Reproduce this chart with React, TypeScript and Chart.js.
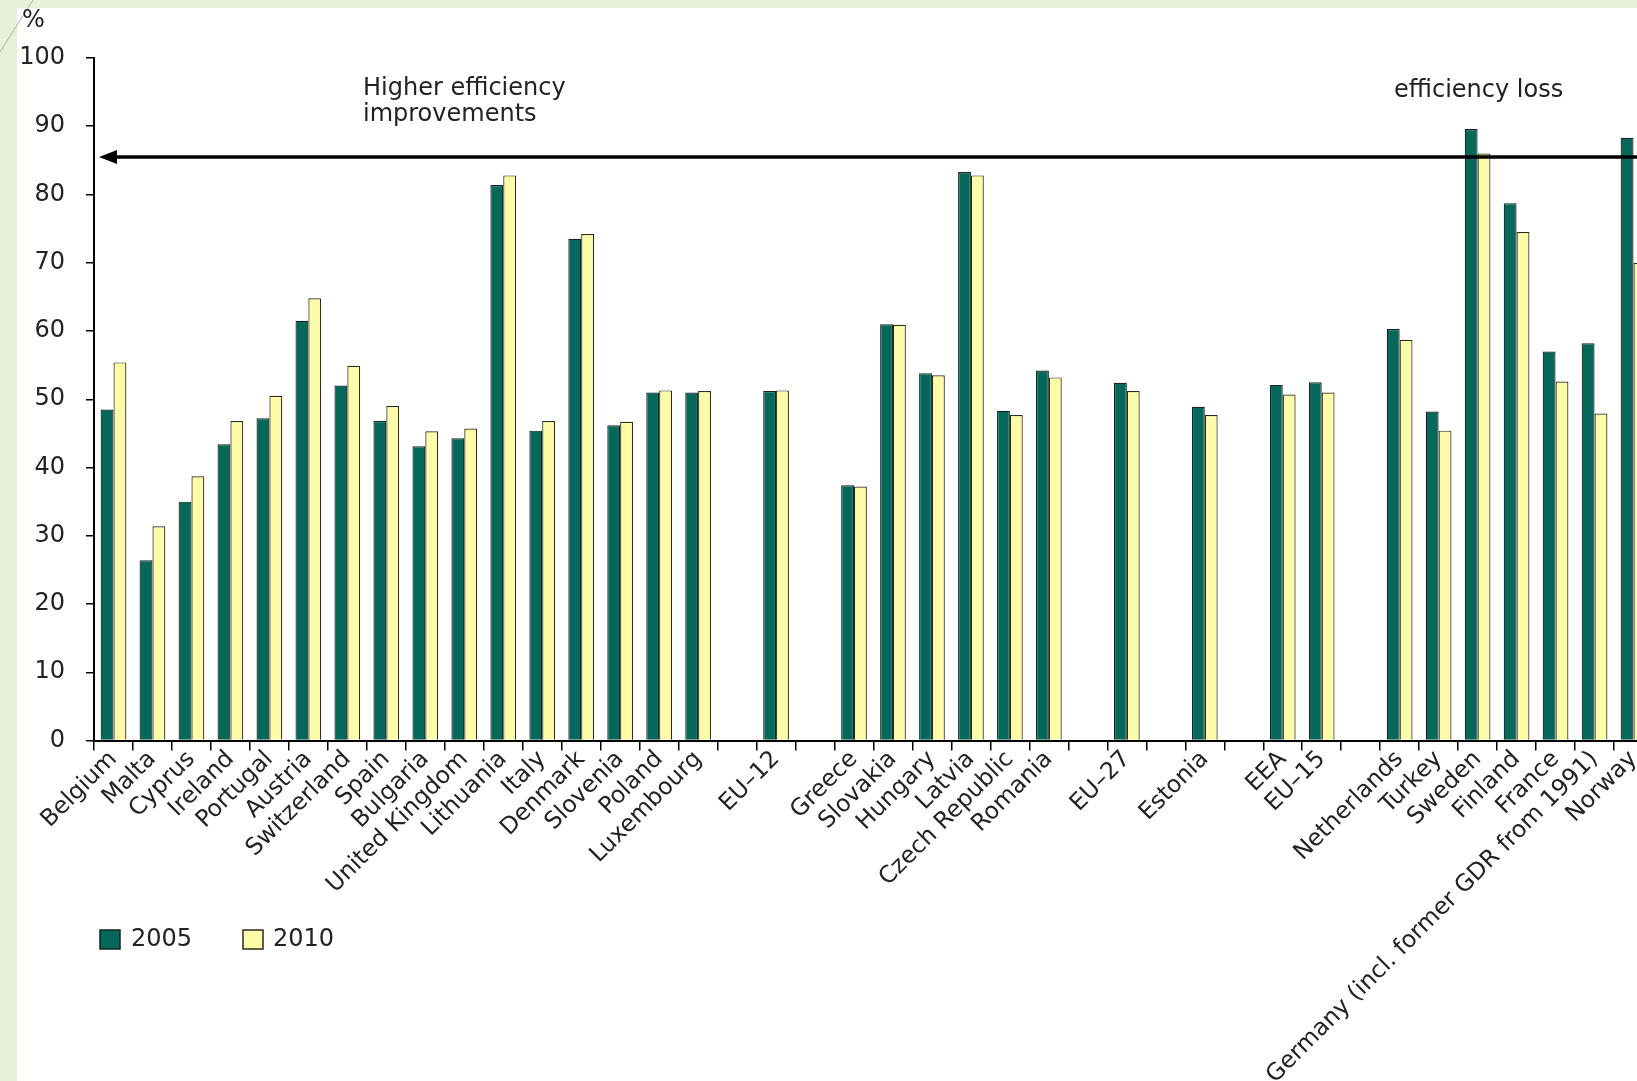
import React, { useEffect, useRef } from 'react';
import { Chart, registerables } from 'chart.js';

Chart.register(...registerables);

const categories: string[] = [
  'Belgium', 'Malta', 'Cyprus', 'Ireland', 'Portugal', 'Austria', 'Switzerland', 'Spain',
  'Bulgaria', 'United Kingdom', 'Lithuania', 'Italy', 'Denmark', 'Slovenia', 'Poland',
  'Luxembourg', '', 'EU–12', '', 'Greece', 'Slovakia', 'Hungary', 'Latvia', 'Czech Republic',
  'Romania', '', 'EU–27', '', 'Estonia', '', 'EEA', 'EU–15', '', 'Netherlands', 'Turkey',
  'Sweden', 'Finland', 'France', 'Germany (incl. former GDR from 1991)', 'Norway',
];

const values2005: (number | null)[] = [
  48.5, 26.4, 35.0, 43.4, 47.2, 61.5, 52.0, 46.8, 43.1, 44.3, 81.4, 45.4, 73.5, 46.2, 51.0,
  51.0, null, 51.2, null, 37.4, 61.0, 53.8, 83.3, 48.3, 54.2, null, 52.4, null, 48.9, null,
  52.1, 52.5, null, 60.3, 48.2, 89.6, 78.7, 57.0, 58.2, 88.3,
];

const values2010: (number | null)[] = [
  55.4, 31.4, 38.7, 46.8, 50.5, 64.8, 54.9, 49.0, 45.3, 45.7, 82.8, 46.8, 74.2, 46.7, 51.3,
  51.2, null, 51.3, null, 37.2, 60.9, 53.5, 82.8, 47.7, 53.2, null, 51.2, null, 47.7, null,
  50.7, 51.0, null, 58.7, 45.4, 86.0, 74.5, 52.6, 47.9, 70.0,
];

const seriesLabels = ['2005', '2010'];
const yTicks = { min: 0, max: 100, step: 10 };
const arrowValue = 85.5;
const annotationLeft = ['Higher efficiency', 'improvements'];
const annotationRight = 'efficiency loss';
const unitLabel = '%';

const FONT = 'DejaVu Sans, Verdana, sans-serif';
const TEXT = '#222222';
const C2005 = '#05685a';
const C2005_EDGE = '#10261f';
const C2010 = '#fefba8';
const C2010_EDGE = '#2e2a1c';

const decorPlugin = {
  id: 'decor',
  beforeDraw(chart: any) {
    const { ctx, width, height } = chart;
    ctx.save();
    ctx.fillStyle = '#e9f0da';
    ctx.fillRect(0, 0, width, height);
    ctx.fillStyle = '#ffffff';
    ctx.fillRect(17, 8, width - 17, height - 8);
    ctx.strokeStyle = '#aab3a0';
    ctx.lineWidth = 1;
    ctx.beginPath();
    ctx.moveTo(33, 0);
    ctx.lineTo(0, 52);
    ctx.stroke();
    ctx.restore();
  },
  afterDraw(chart: any) {
    const { ctx, chartArea } = chart;
    const y = chart.scales.y.getPixelForValue(arrowValue);
    ctx.save();
    // arrow
    const tipX = chartArea.left + 5;
    ctx.strokeStyle = '#000';
    ctx.lineWidth = 3.5;
    ctx.beginPath();
    ctx.moveTo(tipX + 12, y);
    ctx.lineTo(chartArea.right, y);
    ctx.stroke();
    ctx.fillStyle = '#000';
    ctx.beginPath();
    ctx.moveTo(tipX, y);
    ctx.lineTo(tipX + 18, y - 7);
    ctx.lineTo(tipX + 18, y + 7);
    ctx.closePath();
    ctx.fill();

    // texts
    ctx.font = `24px ${FONT}`;
    ctx.fillStyle = TEXT;
    ctx.textBaseline = 'middle';
    ctx.textAlign = 'left';
    ctx.fillText(unitLabel, 22, 21);
    ctx.fillText(annotationLeft[0], 363, 89);
    ctx.fillText(annotationLeft[1], 363, 115);
    ctx.fillText(annotationRight, 1394, 91);

    // legend
    const ds = chart.data.datasets;
    const items = [
      { x: 100, tx: 131 },
      { x: 243, tx: 273 },
    ];
    items.forEach((it, i) => {
      const d = ds[i];
      ctx.fillStyle = d.backgroundColor;
      ctx.fillRect(it.x, 930, 20, 19);
      ctx.strokeStyle = d.borderColor;
      ctx.lineWidth = 1.5;
      ctx.strokeRect(it.x, 930, 20, 19);
      ctx.fillStyle = TEXT;
      ctx.fillText(d.label, it.tx, 940);
    });
    ctx.restore();
  },
};

export default function App() {
  const ref = useRef<HTMLCanvasElement | null>(null);

  useEffect(() => {
    if (!ref.current) return;
    const chart = new Chart(ref.current, {
      type: 'bar',
      data: {
        labels: categories,
        datasets: [
          {
            label: seriesLabels[0],
            data: values2005,
            backgroundColor: C2005,
            borderColor: C2005_EDGE,
            borderWidth: 1.2,
            categoryPercentage: 0.66,
            barPercentage: 1.0,
          },
          {
            label: seriesLabels[1],
            data: values2010,
            backgroundColor: C2010,
            borderColor: C2010_EDGE,
            borderWidth: 1.2,
            categoryPercentage: 0.66,
            barPercentage: 1.0,
          },
        ],
      },
      options: {
        responsive: false,
        animation: false,
        devicePixelRatio: 1,
        layout: { padding: { top: 58, left: 0, right: 47, bottom: 0 } },
        plugins: {
          legend: { display: false },
          tooltip: { enabled: false },
          title: { display: false },
        },
        scales: {
          x: {
            type: 'category',
            offset: true,
            grid: {
              display: true,
              drawOnChartArea: false,
              drawTicks: true,
              tickLength: 10,
              color: '#000',
              lineWidth: 1.5,
              offset: true,
            },
            border: { display: true, color: '#000', width: 2 },
            ticks: {
              autoSkip: false,
              maxRotation: 45,
              minRotation: 45,
              padding: -5,
              color: TEXT,
              font: { family: FONT, size: 23.5 },
            },
            afterFit: (scale: any) => {
              scale.height = 340.5;
            },
          },
          y: {
            min: yTicks.min,
            max: yTicks.max,
            grid: {
              display: true,
              drawOnChartArea: false,
              drawTicks: true,
              tickLength: 8,
              color: '#000',
              lineWidth: 1.5,
            },
            border: { display: true, color: '#000', width: 2 },
            ticks: {
              stepSize: yTicks.step,
              padding: 21,
              color: TEXT,
              font: { family: FONT, size: 24 },
            },
            afterFit: (scale: any) => {
              scale.width = 94;
            },
          },
        },
      },
      plugins: [decorPlugin],
    });
    return () => chart.destroy();
  }, []);

  return (
    <div
      style={{
        position: 'fixed',
        left: 0,
        top: 0,
        width: 1637,
        height: 1081,
        overflow: 'hidden',
        background: '#ffffff',
      }}
    >
      <canvas ref={ref} width={1700} height={1081} style={{ display: 'block' }} />
    </div>
  );
}
